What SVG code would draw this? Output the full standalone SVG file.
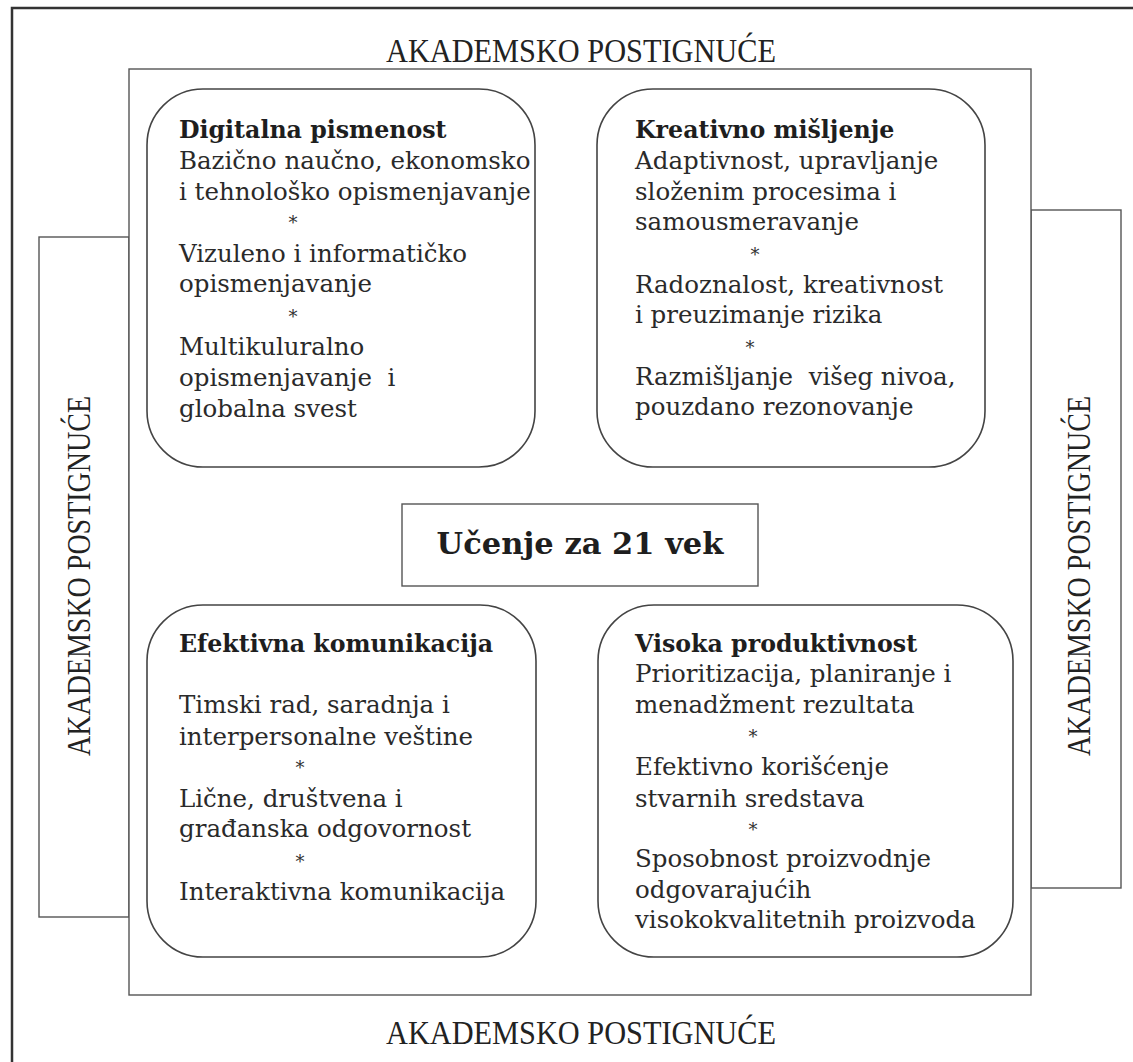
<svg xmlns="http://www.w3.org/2000/svg" width="1133" height="1062" viewBox="0 0 1133 1062">
<style>
.frame{fill:none;stroke:#333;stroke-width:2.5}
.box{fill:#fff;stroke:#555;stroke-width:1.4}
.rbox{fill:#fff;stroke:#444;stroke-width:1.6}
.lbl{font-family:"Liberation Serif","Times New Roman",serif;font-size:33px;fill:#222}
.t{font-family:"DejaVu Serif","Liberation Serif",serif;font-size:24.5px;fill:#2a2a2a;white-space:pre}
.h{font-family:"DejaVu Serif","Liberation Serif",serif;font-size:23.7px;font-weight:bold;fill:#1e1e1e}
.a{font-family:"DejaVu Serif","Liberation Serif",serif;font-size:18px;fill:#333;text-anchor:middle}
.c{font-family:"DejaVu Serif","Liberation Serif",serif;font-size:30.5px;font-weight:bold;fill:#1e1e1e;text-anchor:middle}
</style>
<rect width="1133" height="1062" fill="#fff"/>
<g id="outer-frame">
<rect class="frame" x="12" y="8" width="1140" height="1070"/>
<text class="lbl" x="581" y="62" text-anchor="middle" textLength="390" lengthAdjust="spacingAndGlyphs">AKADEMSKO POSTIGNUĆE</text>
<text class="lbl" x="581" y="1044" text-anchor="middle" textLength="390" lengthAdjust="spacingAndGlyphs">AKADEMSKO POSTIGNUĆE</text>
</g>
<g id="left-side">
<rect class="box" x="39" y="237" width="90" height="680"/>
<text class="lbl" transform="translate(90 576) rotate(-90)" x="0" y="0" text-anchor="middle" textLength="360" lengthAdjust="spacingAndGlyphs">AKADEMSKO POSTIGNUĆE</text>
</g>
<g id="right-side">
<rect class="box" x="1031" y="210" width="90" height="678"/>
<text class="lbl" transform="translate(1090 576) rotate(-90)" x="0" y="0" text-anchor="middle" textLength="360" lengthAdjust="spacingAndGlyphs">AKADEMSKO POSTIGNUĆE</text>
</g>
<g id="inner-frame">
<rect class="box" x="129" y="69" width="902" height="926"/>
</g>
<g id="connectors"></g>
<g id="digitalna-pismenost">
<rect class="rbox" x="147" y="89" width="388" height="378" rx="56" ry="56"/>
<text class="h" x="179" y="138">Digitalna pismenost</text>
<text class="t" x="179" y="169">Bazično naučno, ekonomsko</text>
<text class="t" x="179" y="200">i tehnološko opismenjavanje</text>
<text class="a" x="293" y="229">*</text>
<text class="t" x="179" y="262">Vizuleno i informatičko</text>
<text class="t" x="179" y="292">opismenjavanje</text>
<text class="a" x="293" y="323">*</text>
<text class="t" x="179" y="355">Multikuluralno</text>
<text class="t" x="179" y="386" xml:space="preserve">opismenjavanje  i</text>
<text class="t" x="179" y="417">globalna svest</text>
</g>
<g id="kreativno-misljenje">
<rect class="rbox" x="597" y="89" width="388" height="378" rx="56" ry="56"/>
<text class="h" x="635" y="138">Kreativno mišljenje</text>
<text class="t" x="635" y="169">Adaptivnost, upravljanje</text>
<text class="t" x="635" y="200">složenim procesima i</text>
<text class="t" x="635" y="230">samousmeravanje</text>
<text class="a" x="755" y="261">*</text>
<text class="t" x="635" y="293">Radoznalost, kreativnost</text>
<text class="t" x="635" y="323">i preuzimanje rizika</text>
<text class="a" x="750" y="354">*</text>
<text class="t" x="635" y="385" xml:space="preserve">Razmišljanje  višeg nivoa,</text>
<text class="t" x="635" y="415">pouzdano rezonovanje</text>
</g>
<g id="ucenje-za-21-vek">
<rect class="box" x="402" y="504" width="356" height="82"/>
<text class="c" x="580" y="554">Učenje za 21 vek</text>
</g>
<g id="efektivna-komunikacija">
<rect class="rbox" x="147" y="605" width="389" height="352" rx="56" ry="56"/>
<text class="h" x="179" y="652">Efektivna komunikacija</text>
<text class="t" x="179" y="713">Timski rad, saradnja i</text>
<text class="t" x="179" y="745">interpersonalne veštine</text>
<text class="a" x="300" y="774">*</text>
<text class="t" x="179" y="807">Lične, društvena i</text>
<text class="t" x="179" y="837">građanska odgovornost</text>
<text class="a" x="300" y="868">*</text>
<text class="t" x="179" y="900">Interaktivna komunikacija</text>
</g>
<g id="visoka-produktivnost">
<rect class="rbox" x="598" y="605" width="415" height="352" rx="56" ry="56"/>
<text class="h" x="635" y="652">Visoka produktivnost</text>
<text class="t" x="635" y="682">Prioritizacija, planiranje i</text>
<text class="t" x="635" y="713">menadžment rezultata</text>
<text class="a" x="753" y="743">*</text>
<text class="t" x="635" y="775">Efektivno korišćenje</text>
<text class="t" x="635" y="807">stvarnih sredstava</text>
<text class="a" x="753" y="836">*</text>
<text class="t" x="635" y="867">Sposobnost proizvodnje</text>
<text class="t" x="635" y="898">odgovarajućih</text>
<text class="t" x="635" y="928">visokokvalitetnih proizvoda</text>
</g>
</svg>
